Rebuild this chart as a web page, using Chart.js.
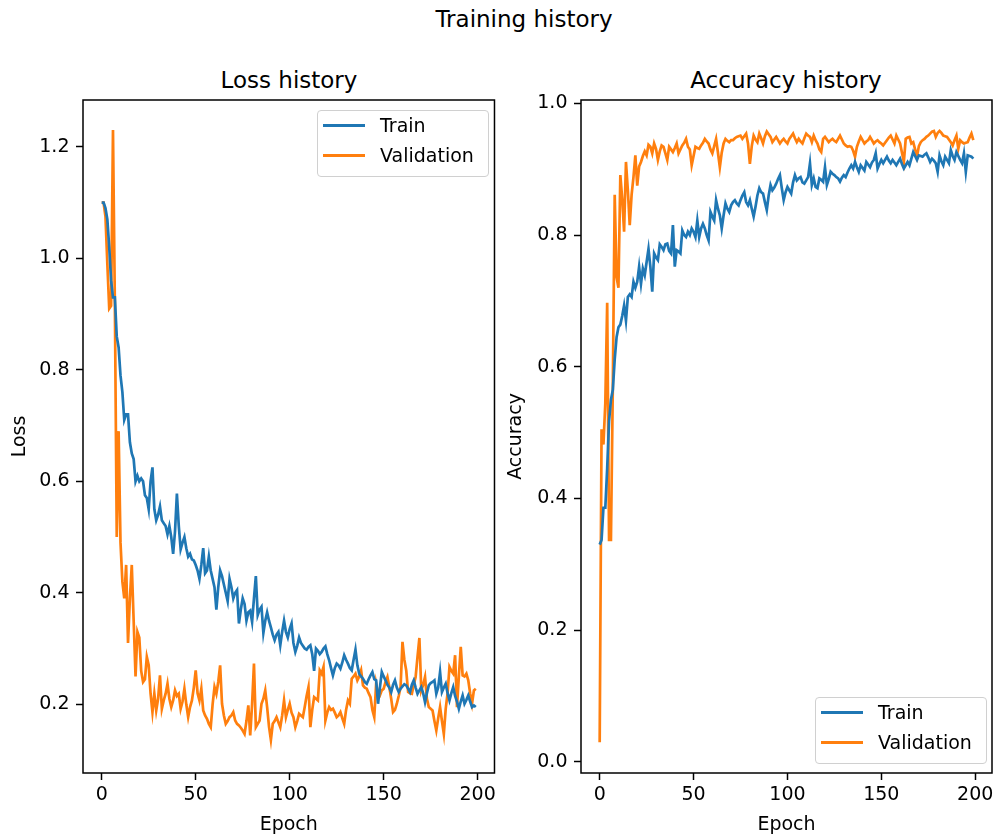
<!DOCTYPE html>
<html>
<head>
<meta charset="utf-8">
<title>Training history</title>
<script src="https://cdn.jsdelivr.net/npm/chart.js@4.4.0/dist/chart.umd.min.js"></script>
<style>
  body { margin: 0; background: #fff; }
  #fig { position: relative; width: 1000px; height: 839px; font-family: "DejaVu Sans", sans-serif; color: #000; overflow: hidden; }
  #fig canvas { position: absolute; top: 0; }
  .title { position: absolute; font-size: 23px; line-height: 1.2; white-space: nowrap; transform: translateX(-50%); }
  .legend { position: absolute; width: 170px; height: 65px; border: 1px solid #d0d0d0; border-radius: 4px; background: rgba(255, 255, 255, 0.8); }
  .legend .row { position: absolute; left: 0; height: 23px; display: flex; align-items: center; font-size: 19px; line-height: 1.2; }
  .legend .swatch { width: 42px; height: 3px; margin-left: 5px; margin-right: 15px; }
</style>
</head>
<body>
<div id="fig">
  <div class="title" style="left:524px; top:6px;">Training history</div>
  <div class="title" style="left:289px; top:67px;">Loss history</div>
  <div class="title" style="left:786px; top:67px;">Accuracy history</div>
  <canvas id="lossChart" width="500" height="839" style="left:0;"></canvas>
  <canvas id="accChart" width="500" height="839" style="left:500px;"></canvas>
  <div class="legend" style="left:317px; top:110px;">
    <div class="row" style="top:3px;"><span class="swatch" style="background:#1f77b4"></span>Train</div>
    <div class="row" style="top:33px;"><span class="swatch" style="background:#ff7f0e"></span>Validation</div>
  </div>
  <div class="legend" style="left:815px; top:697px;">
    <div class="row" style="top:3px;"><span class="swatch" style="background:#1f77b4"></span>Train</div>
    <div class="row" style="top:33px;"><span class="swatch" style="background:#ff7f0e"></span>Validation</div>
  </div>
</div>
<script>
// per-epoch history, epochs 0..199
const epochs = Array.from({ length: 200 }, (_, i) => i);

const trainLoss = [
  1.10, 1.10, 1.09, 1.07, 1.02, 0.96, 0.93, 0.93, 0.86, 0.84,
  0.79, 0.76, 0.71, 0.72, 0.72, 0.67, 0.65, 0.64, 0.60, 0.61,
  0.60, 0.605, 0.60, 0.575, 0.57, 0.55, 0.60, 0.625, 0.55, 0.53,
  0.54, 0.555, 0.53, 0.525, 0.52, 0.505, 0.52, 0.50, 0.47, 0.51,
  0.578, 0.52, 0.478, 0.49, 0.50, 0.48, 0.465, 0.47, 0.46, 0.458,
  0.45, 0.44, 0.425, 0.45, 0.48, 0.435, 0.44, 0.465, 0.44, 0.425,
  0.41, 0.37, 0.41, 0.44, 0.43, 0.415, 0.40, 0.385, 0.425, 0.41,
  0.39, 0.40, 0.405, 0.345, 0.37, 0.39, 0.38, 0.35, 0.365, 0.368,
  0.348, 0.39, 0.43, 0.36, 0.37, 0.375, 0.328, 0.35, 0.365, 0.35,
  0.338, 0.325, 0.315, 0.325, 0.33, 0.306, 0.33, 0.35, 0.33, 0.32,
  0.335, 0.345, 0.31, 0.294, 0.305, 0.32, 0.31, 0.305, 0.30, 0.298,
  0.303, 0.306, 0.29, 0.26, 0.30, 0.296, 0.29, 0.294, 0.30, 0.304,
  0.29, 0.279, 0.265, 0.252, 0.265, 0.273, 0.27, 0.264, 0.275, 0.288,
  0.28, 0.273, 0.265, 0.261, 0.28, 0.298, 0.27, 0.255, 0.25, 0.246,
  0.24, 0.237, 0.245, 0.252, 0.258, 0.245, 0.243, 0.201, 0.23, 0.258,
  0.25, 0.243, 0.235, 0.23, 0.222, 0.235, 0.243, 0.23, 0.222, 0.228,
  0.232, 0.236, 0.234, 0.228, 0.222, 0.235, 0.243, 0.23, 0.219, 0.225,
  0.231, 0.22, 0.204, 0.22, 0.234, 0.238, 0.24, 0.243, 0.219, 0.23,
  0.258, 0.222, 0.23, 0.237, 0.22, 0.207, 0.22, 0.231, 0.215, 0.205,
  0.192, 0.205, 0.216, 0.201, 0.208, 0.216, 0.205, 0.195, 0.198, 0.195
];

const valLoss = [
  1.10, 1.10, 1.075, 0.99, 0.91, 0.915, 1.23, 0.92, 0.50, 0.69,
  0.49, 0.42, 0.39, 0.45, 0.31, 0.39, 0.45, 0.35, 0.25, 0.33,
  0.32, 0.26, 0.24, 0.245, 0.285, 0.27, 0.219, 0.186, 0.219, 0.189,
  0.21, 0.252, 0.192, 0.207, 0.219, 0.237, 0.21, 0.195, 0.207, 0.225,
  0.215, 0.219, 0.192, 0.205, 0.228, 0.20, 0.177, 0.195, 0.207, 0.23,
  0.261, 0.22, 0.207, 0.228, 0.189, 0.18, 0.174, 0.165, 0.159, 0.20,
  0.231, 0.219, 0.24, 0.27, 0.201, 0.18, 0.165, 0.17, 0.177, 0.18,
  0.186, 0.171, 0.165, 0.162, 0.158, 0.153, 0.147, 0.17, 0.198, 0.144,
  0.20, 0.273, 0.159, 0.165, 0.171, 0.201, 0.21, 0.225, 0.195, 0.16,
  0.136, 0.165, 0.17, 0.177, 0.168, 0.159, 0.18, 0.207, 0.177, 0.19,
  0.201, 0.185, 0.177, 0.159, 0.17, 0.183, 0.18, 0.177, 0.195, 0.215,
  0.231, 0.159, 0.19, 0.213, 0.21, 0.207, 0.261, 0.255, 0.267, 0.171,
  0.185, 0.195, 0.19, 0.192, 0.185, 0.177, 0.18, 0.186, 0.175, 0.165,
  0.19, 0.207, 0.201, 0.246, 0.25, 0.255, 0.243, 0.25, 0.261, 0.234,
  0.23, 0.228, 0.22, 0.213, 0.19, 0.177, 0.237, 0.22, 0.216, 0.225,
  0.228, 0.24, 0.249, 0.231, 0.21, 0.186, 0.19, 0.201, 0.215, 0.231,
  0.312, 0.28, 0.261, 0.222, 0.22, 0.219, 0.235, 0.249, 0.285, 0.319,
  0.225, 0.235, 0.249, 0.21, 0.195, 0.192, 0.189, 0.17, 0.153, 0.175,
  0.195, 0.17, 0.147, 0.192, 0.22, 0.267, 0.26, 0.255, 0.288, 0.195,
  0.25, 0.303, 0.252, 0.25, 0.255, 0.243, 0.22, 0.201, 0.225, 0.228
];

const trainAcc = [
  0.33, 0.337, 0.386, 0.386, 0.446, 0.518, 0.55, 0.565, 0.611, 0.645,
  0.66, 0.664, 0.677, 0.693, 0.67, 0.706, 0.71, 0.706, 0.729, 0.72,
  0.729, 0.752, 0.726, 0.749, 0.739, 0.759, 0.779, 0.752, 0.714, 0.772,
  0.766, 0.762, 0.786, 0.782, 0.777, 0.786, 0.787, 0.776, 0.772, 0.815,
  0.752, 0.777, 0.775, 0.772, 0.807, 0.80, 0.797, 0.805, 0.80, 0.81,
  0.805, 0.797, 0.822, 0.797, 0.81, 0.817, 0.81, 0.80, 0.792, 0.835,
  0.828, 0.822, 0.853, 0.84, 0.83, 0.81, 0.83, 0.848, 0.84, 0.835,
  0.845, 0.85, 0.853, 0.848, 0.845, 0.853, 0.86, 0.865, 0.85, 0.845,
  0.853, 0.84, 0.828, 0.843, 0.86, 0.871, 0.865, 0.863, 0.85, 0.838,
  0.86, 0.876, 0.868, 0.872, 0.878, 0.885, 0.891, 0.871, 0.853, 0.865,
  0.873, 0.868, 0.863, 0.88, 0.891, 0.883, 0.886, 0.888, 0.88, 0.878,
  0.883, 0.888, 0.909, 0.876, 0.886, 0.873, 0.871, 0.886, 0.884, 0.881,
  0.903, 0.876, 0.885, 0.896, 0.893, 0.891, 0.888, 0.886, 0.881, 0.887,
  0.891, 0.888, 0.895, 0.901, 0.906, 0.901, 0.911, 0.903, 0.896, 0.906,
  0.902, 0.898, 0.911, 0.907, 0.903, 0.91, 0.914, 0.924, 0.901, 0.908,
  0.914, 0.909, 0.914, 0.919, 0.913, 0.909, 0.914, 0.91, 0.906, 0.911,
  0.916, 0.908, 0.901, 0.906, 0.911, 0.906, 0.916, 0.926, 0.92, 0.914,
  0.921, 0.92, 0.919, 0.922, 0.924, 0.918, 0.911, 0.916, 0.913, 0.909,
  0.896, 0.921, 0.912, 0.906, 0.919, 0.914, 0.909, 0.929, 0.92, 0.914,
  0.926, 0.92, 0.914, 0.909, 0.924, 0.896, 0.921, 0.92, 0.919, 0.916
];

const valAcc = [
  0.03, 0.505, 0.482, 0.545, 0.697, 0.337, 0.337, 0.571, 0.861, 0.736,
  0.72, 0.891, 0.855, 0.805, 0.911, 0.868, 0.815, 0.861, 0.888, 0.921,
  0.875, 0.904, 0.911, 0.92, 0.927, 0.921, 0.937, 0.934, 0.924, 0.939,
  0.931, 0.914, 0.927, 0.936, 0.934, 0.924, 0.914, 0.934, 0.93, 0.926,
  0.932, 0.939, 0.924, 0.93, 0.936, 0.94, 0.946, 0.934, 0.93, 0.906,
  0.92, 0.934, 0.932, 0.931, 0.936, 0.94, 0.946, 0.942, 0.939, 0.93,
  0.924, 0.935, 0.946, 0.925, 0.903, 0.925, 0.939, 0.946, 0.943, 0.941,
  0.944, 0.944, 0.947, 0.949, 0.95, 0.951, 0.946, 0.95, 0.954, 0.939,
  0.908, 0.935, 0.951, 0.945, 0.941, 0.954, 0.947, 0.939, 0.95, 0.957,
  0.953, 0.949, 0.941, 0.945, 0.949, 0.944, 0.939, 0.943, 0.946, 0.942,
  0.939, 0.946, 0.95, 0.954, 0.947, 0.941, 0.946, 0.942, 0.939, 0.947,
  0.954, 0.951, 0.949, 0.941, 0.951, 0.944, 0.939, 0.93, 0.926, 0.946,
  0.949, 0.945, 0.941, 0.944, 0.946, 0.943, 0.941, 0.946, 0.951, 0.945,
  0.939, 0.936, 0.934, 0.935, 0.934, 0.928, 0.919, 0.934, 0.942, 0.949,
  0.944, 0.939, 0.942, 0.944, 0.949, 0.944, 0.939, 0.942, 0.944, 0.941,
  0.939, 0.936, 0.94, 0.944, 0.948, 0.951, 0.945, 0.939, 0.951, 0.945,
  0.939, 0.925, 0.911, 0.946, 0.948, 0.949, 0.939, 0.941, 0.93, 0.919,
  0.935, 0.941, 0.944, 0.946, 0.949, 0.951, 0.954, 0.957, 0.958, 0.949,
  0.955, 0.958, 0.955, 0.951, 0.95, 0.949, 0.945, 0.941, 0.936, 0.944,
  0.951, 0.931, 0.944, 0.941, 0.939, 0.94, 0.941, 0.948, 0.954, 0.944
];

const epochTicks = [0, 50, 100, 150, 200];
const lossTicks = [0.2, 0.4, 0.6, 0.8, 1.0, 1.2];
const accTicks = [0.0, 0.2, 0.4, 0.6, 0.8, 1.0];

const BLUE = '#1f77b4';
const ORANGE = '#ff7f0e';
const FONT = { family: 'DejaVu Sans', size: 19 };

Chart.defaults.font.family = 'DejaVu Sans';
Chart.defaults.color = '#000';

// box around the plotting area (all four spines)
const framePlugin = {
  id: 'frame',
  afterDraw(chart) {
    const { ctx, chartArea: a } = chart;
    ctx.save();
    ctx.strokeStyle = '#000';
    ctx.lineWidth = 1.5;
    ctx.strokeRect(a.left, a.top, a.right - a.left, a.bottom - a.top);
    ctx.restore();
  }
};

const tickGrid = {
  drawOnChartArea: false,
  drawTicks: true,
  tickLength: 7,
  tickWidth: 1.5,
  tickColor: '#000'
};

function series(values, color) {
  return {
    data: values.map((v, i) => ({ x: epochs[i], y: v })),
    borderColor: color,
    backgroundColor: color,
    borderWidth: 2.7,
    pointRadius: 0,
    tension: 0,
    fill: false
  };
}

function historyChart(canvasId, opts) {
  return new Chart(document.getElementById(canvasId), {
    type: 'line',
    data: { datasets: [series(opts.train, BLUE), series(opts.val, ORANGE)] },
    options: {
      responsive: false,
      animation: false,
      devicePixelRatio: 1,
      layout: { padding: { top: 100, right: opts.padRight, bottom: 0, left: 0 } },
      plugins: { legend: { display: false }, tooltip: { enabled: false } },
      scales: {
        x: {
          type: 'linear',
          min: -9.95,
          max: 208.95,
          afterBuildTicks: s => { s.ticks = epochTicks.map(v => ({ value: v })); },
          afterFit: s => { s.height = 66; },
          grid: tickGrid,
          border: { display: false },
          ticks: { font: FONT, color: '#000', padding: 4, maxRotation: 0, autoSkip: false, callback: v => String(v) },
          title: { display: true, text: 'Epoch', color: '#000', font: FONT, padding: { top: 0, bottom: 3 } }
        },
        y: {
          type: 'linear',
          min: opts.yMin,
          max: opts.yMax,
          afterBuildTicks: s => { s.ticks = opts.yTicks.map(v => ({ value: v })); },
          afterFit: s => { s.width = opts.yWidth; },
          grid: tickGrid,
          border: { display: false },
          ticks: { font: FONT, color: '#000', padding: 6.5, callback: v => v.toFixed(1) },
          title: { display: true, text: opts.yTitle, color: '#000', font: FONT, padding: { top: opts.yTitlePad, bottom: 0 } }
        }
      }
    },
    plugins: [framePlugin]
  });
}

historyChart('lossChart', {
  train: trainLoss, val: valLoss,
  yMin: 0.0768, yMax: 1.284, yTicks: lossTicks,
  yTitle: 'Loss', yWidth: 83, yTitlePad: 9, padRight: 5
});

historyChart('accChart', {
  train: trainAcc, val: valAcc,
  yMin: -0.0167, yMax: 1.005, yTicks: accTicks,
  yTitle: 'Accuracy', yWidth: 81, yTitlePad: 5, padRight: 8
});
</script>
</body>
</html>
